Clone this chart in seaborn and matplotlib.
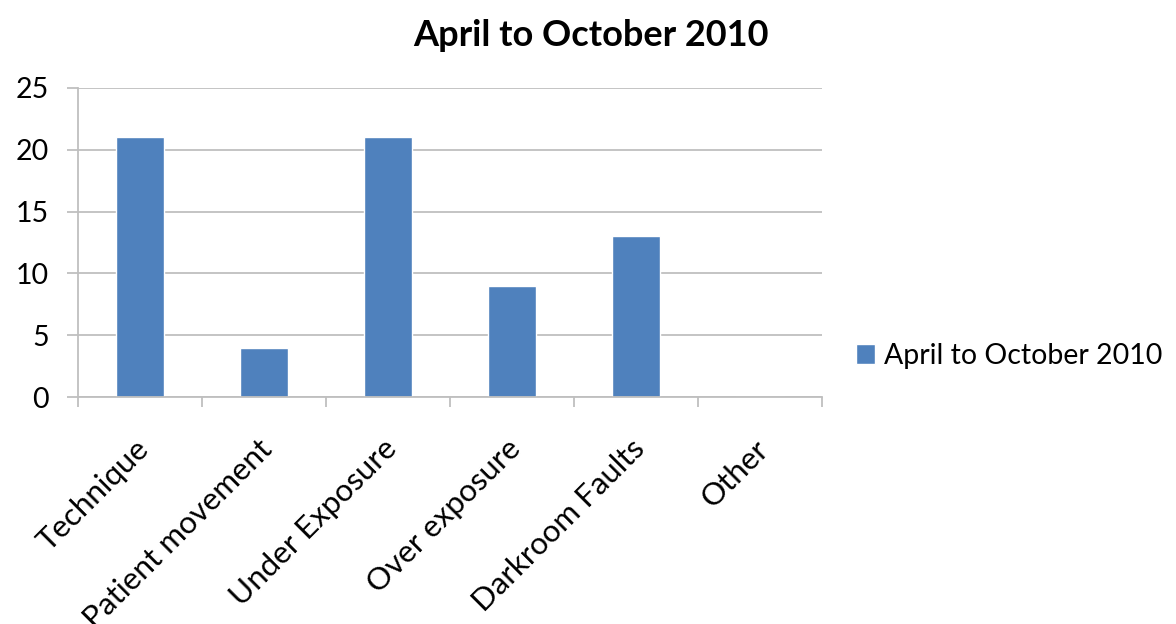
import matplotlib
matplotlib.use("Agg")
import matplotlib.pyplot as plt
import matplotlib.transforms as mtransforms
import seaborn as sns
import pandas as pd

categories = ["Technique", "Patient movement", "Under Exposure",
              "Over exposure", "Darkroom Faults", "Other"]
values = [21, 4, 21, 9, 13, 0]
series_name = "April to October 2010"
y_ticks = [0, 5, 10, 15, 20, 25]

sns.set_theme(style="white")
plt.rcParams["font.family"] = ["Lato", "DejaVu Sans"]

df = pd.DataFrame({"category": categories, "value": values})

fig = plt.figure(figsize=(11.76, 6.24), dpi=100)
ax = fig.add_axes([78 / 1176, 1 - 397 / 624, (822 - 78) / 1176, (397 - 88) / 624])

bar_color = "#4F81BD"
sns.barplot(data=df, x="category", y="value", color=bar_color, width=0.39,
            ax=ax, saturation=1, label=series_name)
if ax.get_legend() is not None:
    ax.get_legend().remove()

grid_c = "#BFBFBF"
ax.set_ylim(0, 25)
ax.set_xlim(-0.5, len(categories) - 0.5)
ax.set_yticks(y_ticks)
ax.yaxis.grid(True, color=grid_c, linewidth=1.3)
ax.set_axisbelow(True)
ax.tick_params(axis="y", which="major", direction="out", length=8,
               width=1.3, color=grid_c, labelsize=20.5, pad=13, left=True)

# Category separators on the x axis
ax.set_xticks([i - 0.5 for i in range(len(categories) + 1)], minor=True)
ax.tick_params(axis="x", which="minor", direction="out", length=7.5,
               width=1.3, color=grid_c, bottom=True)
ax.set_xticks(range(len(categories)))
ax.set_xticklabels(categories, rotation=45, ha="right", rotation_mode="anchor")
ax.tick_params(axis="x", which="major", length=0, labelsize=22.5, pad=27)

# nudge the slanted category labels slightly to the left
shift = mtransforms.ScaledTranslation(-6 / 100, 0, fig.dpi_scale_trans)
for lbl in ax.get_xticklabels():
    lbl.set_transform(lbl.get_transform() + shift)

for side in ("top", "right"):
    ax.spines[side].set_visible(False)
for side in ("left", "bottom"):
    ax.spines[side].set_color(grid_c)
    ax.spines[side].set_linewidth(1.3)

ax.set_xlabel("")
ax.set_ylabel("")
for t in ax.get_xticklabels() + ax.get_yticklabels():
    t.set_color("#000000")

fig.suptitle(series_name, x=591 / 1176, y=1 - 35 / 624, va="center",
             fontsize=26, fontweight="bold", color="#000000")

handles, labels = ax.get_legend_handles_labels()
fig.legend(handles, labels, loc="center left",
           bbox_to_anchor=(856 / 1176, 1 - 356 / 624), frameon=False,
           borderaxespad=0, borderpad=0, labelcolor="#000000",
           fontsize=20.5, handlelength=0.65, handleheight=0.65, handletextpad=0.35)

fig.savefig("out.png", dpi=100)
